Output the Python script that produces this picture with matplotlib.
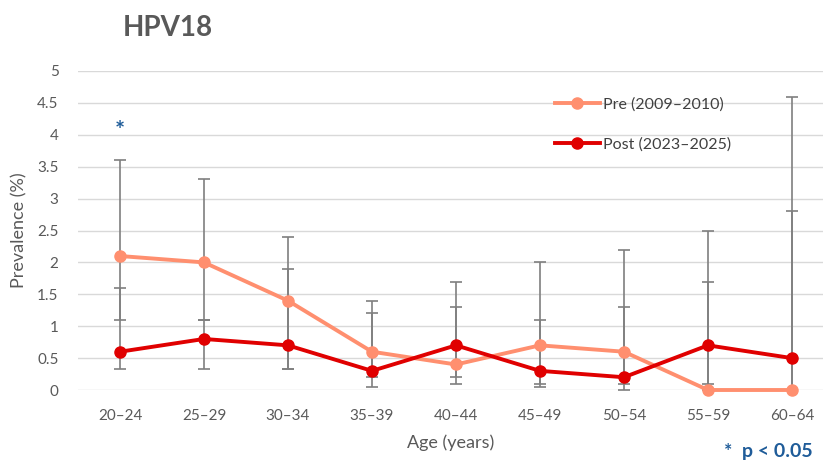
import matplotlib
matplotlib.use("Agg")
import matplotlib.pyplot as plt
import numpy as np

plt.rcParams['font.family'] = ['Lato', 'DejaVu Sans']

categories = ["20–24", "25–29", "30–34", "35–39", "40–44", "45–49", "50–54", "55–59", "60–64"]
pre_values = [2.1, 2.0, 1.4, 0.6, 0.4, 0.7, 0.6, 0.0, 0.0]
pre_lower = [1.1, 1.1, 0.33, 0.2, 0.1, 0.1, 0.1, 0.0, 0.0]
pre_upper = [3.6, 3.3, 2.4, 1.4, 1.3, 2.0, 2.2, 1.7, 4.6]
post_values = [0.6, 0.8, 0.7, 0.3, 0.7, 0.3, 0.2, 0.7, 0.5]
post_lower = [0.33, 0.33, 0.33, 0.05, 0.2, 0.05, 0.0, 0.1, 0.0]
post_upper = [1.6, 1.1, 1.9, 1.2, 1.7, 1.1, 1.3, 2.5, 2.8]
y_ticks = [0, 0.5, 1, 1.5, 2, 2.5, 3, 3.5, 4, 4.5, 5]
y_tick_labels = ["0", "0.5", "1", "1.5", "2", "2.5", "3", "3.5", "4", "4.5", "5"]
sig_index = 0
sig_y = 4.05

W, H = 823, 462
fig = plt.figure(figsize=(W / 100, H / 100), dpi=100)
left, right, top, bottom = 78, 823, 71, 390
ax = fig.add_axes([left / W, 1 - bottom / H, (right - left) / W, (bottom - top) / H])

x = np.arange(len(categories))
pre_c = "#FF8F6F"
post_c = "#E00000"
err_c = "#7F7F7F"

pre_err = [np.array(pre_values) - np.array(pre_lower), np.array(pre_upper) - np.array(pre_values)]
post_err = [np.array(post_values) - np.array(post_lower), np.array(post_upper) - np.array(post_values)]

for err, vals in ((pre_err, pre_values), (post_err, post_values)):
    eb = ax.errorbar(x, vals, yerr=err, fmt='none', ecolor=err_c, elinewidth=1.2,
                     capsize=4, capthick=1.2, zorder=2)
    for c in eb.lines[1]:
        c.set_clip_on(False)
    for c in eb.lines[2]:
        c.set_clip_on(False)

ax.plot(x, pre_values, color=pre_c, lw=2.8, marker='o', ms=8, label="Pre (2009–2010)", zorder=3, clip_on=False)
ax.plot(x, post_values, color=post_c, lw=2.8, marker='o', ms=8, label="Post (2023–2025)", zorder=4, clip_on=False)

ax.set_xlim(-0.5, 8.37)
ax.set_ylim(0, 5)
ax.set_yticks(y_ticks)
ax.set_yticklabels(y_tick_labels)
ax.set_xticks(x)
ax.set_xticklabels(categories)
ax.grid(axis='y', color='#D9D9D9', lw=1.0, zorder=0)
ax.set_axisbelow(True)
for s in ax.spines.values():
    s.set_visible(False)
ax.tick_params(axis='both', length=0, labelsize=11, labelcolor='#595959')
ax.tick_params(axis='y', pad=14)
ax.tick_params(axis='x', pad=14)

ax.set_xlabel("Age (years)", fontsize=13, color='#595959', labelpad=8)
ax.set_ylabel("Prevalence (%)", fontsize=13, color='#595959', labelpad=7)

ax.text(x[sig_index], sig_y, "*", color='#1F5C99', fontsize=17, fontweight='bold', ha='center', va='center')

fig.text(123 / W, 1 - 28 / H, "HPV18", fontsize=20, fontweight='bold', color='#595959', ha='left', va='center')
fig.text(813 / W, 1 - 452 / H, "*  p < 0.05", fontsize=14, fontweight='bold', color='#1F5C99', ha='right', va='center')

leg = ax.legend(loc='upper left', bbox_to_anchor=((555 - left) / (right - left), 1 - (97 - top) / (bottom - top)),
                frameon=False, fontsize=11.5, labelspacing=1.6, handlelength=2.8, handletextpad=0.2,
                borderaxespad=0, borderpad=0)
for t in leg.get_texts():
    t.set_color('#404040')

fig.savefig("out.png", dpi=100)
